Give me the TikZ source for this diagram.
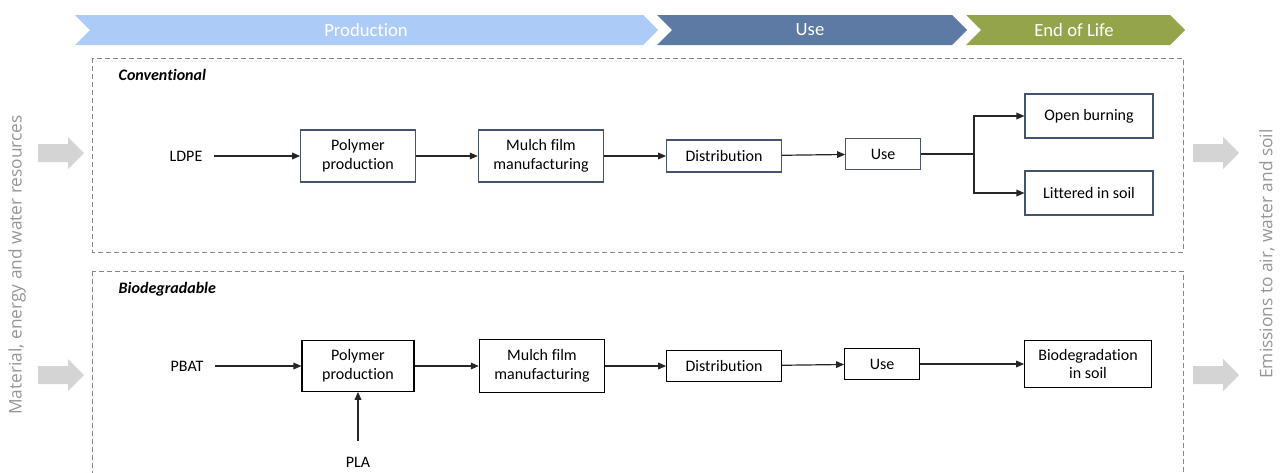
\documentclass[tikz,border=0pt]{standalone}
\usepackage{fontspec}
\setmainfont{Carlito}[Ligatures=NoCommon]
\newfontfamily\sidefont{Open Sans}
\definecolor{prodblue}{RGB}{173, 203, 247}
\definecolor{useblue}{RGB}{92, 122, 163}
\definecolor{eolgreen}{RGB}{148, 164, 74}
\definecolor{boxslate}{RGB}{68, 84, 106}
\definecolor{framegray}{RGB}{140, 132, 132}
\definecolor{flowgray}{RGB}{212, 212, 212}
\definecolor{sidegray}{RGB}{150, 150, 150}
\usetikzlibrary{arrows.meta, positioning}

\begin{document}
\begin{tikzpicture}[x=0.75pt, y=-0.75pt,
  stage/.style={font=\fontsize{14}{16}\selectfont, text=white},
  convbox/.style={draw=boxslate, line width=0.8pt, align=center, font=\fontsize{12}{14}\selectfont, inner sep=2pt},
  biobox/.style={draw=black, line width=0.8pt, align=center, font=\fontsize{12}{14}\selectfont, inner sep=2pt},
  feed/.style={font=\fontsize{12}{14}\selectfont},
  tag/.style={anchor=west, font=\fontsize{12}{14}\selectfont\bfseries\itshape},
  flow/.style={draw=black!85, line width=0.9pt, -{Triangle[length=6pt, width=5pt]}},
  frame/.style={draw=framegray, line width=0.7pt, dash pattern=on 3.5pt off 2.5pt},
  sidetext/.style={font=\sidefont\fontsize{13}{15}\selectfont, text=sidegray, rotate=90}]
  \useasboundingbox (0,0) rectangle (1285,472);

  % Life cycle stages
  \fill[prodblue] (75,15) -- (643,15) -- (658,30) -- (643,45) -- (75,45) -- (90,30) -- cycle;
  \fill[useblue] (657,15) -- (952,15) -- (967,30) -- (952,45) -- (657,45) -- (672,30) -- cycle;
  \fill[eolgreen] (966,15) -- (1170,15) -- (1185,30) -- (1170,45) -- (966,45) -- (981,30) -- cycle;
  \node[stage] (production) at (366,30) {Production};
  \node[stage] (usephase) at (810,30) {Use};
  \node[stage] (endoflife) at (1074,30) {End of Life};

  % Inputs and emissions
  \foreach \ax/\ay in {38/153, 38/375, 1193/153, 1193/375}
    \fill[flowgray] (\ax,\ay) ++(0,-9) -- ++(30,0) -- ++(0,-7) -- ++(16,16) -- ++(-16,16) -- ++(0,-7) -- ++(-30,0) -- cycle;
  \node[sidetext] (resources) at (17,265) {Material, energy and water resources};
  \node[sidetext] (emissions) at (1267,254) {Emissions to air, water and soil};

  % Conventional
  \draw[frame] (92,58) rectangle (1183,252);
  \node[tag] (conv) at (114,75) {Conventional};

  \node[feed] (ldpe) at (186,156) {LDPE};
  \node[convbox, minimum width=86pt, minimum height=39pt] (prodA) at (358,156) {Polymer\\production};
  \node[convbox, minimum width=94pt, minimum height=39pt] (mulchA) at (541,156) {Mulch film\\manufacturing};
  \node[convbox, minimum width=86pt, minimum height=24pt] (distA) at (724,156) {Distribution};
  \node[convbox, minimum width=56pt, minimum height=23pt] (useA) at (883,154) {Use};
  \node[convbox, minimum width=96pt, minimum height=33pt] (burnA) at (1089,116) {Open burning};
  \node[convbox, minimum width=96pt, minimum height=33pt] (litterA) at (1089,193) {Littered in soil};
  \coordinate (split) at (974,154);

  \draw[flow, shorten <=5pt] (ldpe) -- (prodA);
  \draw[flow] (prodA) -- (mulchA);
  \draw[flow] (mulchA) -- (distA);
  \draw[flow] (distA) -- (useA);
  \draw[draw=black!85, line width=0.9pt] (useA) -- (split);
  \draw[flow] (split) |- (burnA);
  \draw[flow] (split) |- (litterA);

  % Biodegradable
  \draw[frame] (92,271) rectangle (1183,490);
  \node[tag] (bio) at (114,289) {Biodegradable};

  \node[feed] (pbat) at (187,366) {PBAT};
  \node[feed] (pla) at (358,462) {PLA};
  \node[biobox, minimum width=84pt, minimum height=38pt] (prodB) at (358,366) {Polymer\\production};
  \node[biobox, minimum width=94pt, minimum height=40pt] (mulchB) at (542,366) {Mulch film\\manufacturing};
  \node[biobox, minimum width=86pt, minimum height=23pt] (distB) at (724,366) {Distribution};
  \node[biobox, minimum width=56pt, minimum height=23pt] (useB) at (882,364) {Use};
  \node[biobox, minimum width=95pt, minimum height=35pt] (bioB) at (1088,364) {Biodegradation\\in soil};

  \draw[flow, shorten <=5pt] (pbat) -- (prodB);
  \draw[flow, shorten <=8pt] (pla) -- (prodB);
  \draw[flow] (prodB) -- (mulchB);
  \draw[flow] (mulchB) -- (distB);
  \draw[flow] (distB) -- (useB);
  \draw[flow] (useB) -- (bioB);
\end{tikzpicture}
\end{document}
